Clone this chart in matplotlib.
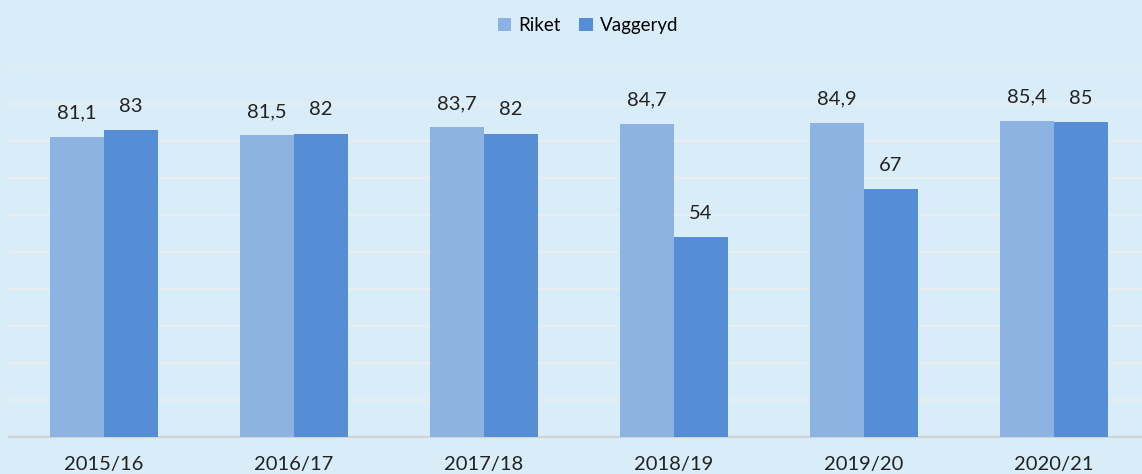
import matplotlib.pyplot as plt
import numpy as np

years = ['2015/16', '2016/17', '2017/18', '2018/19', '2019/20', '2020/21']
riket = [81.1, 81.5, 83.7, 84.7, 84.9, 85.4]
vaggeryd = [83, 82, 82, 54, 67, 85]
riket_lbl = ['81,1', '81,5', '83,7', '84,7', '84,9', '85,4']
vaggeryd_lbl = ['83', '82', '82', '54', '67', '85']

bg = '#d8edf8'
c_riket = '#8db3e2'
c_vagg = '#558ed5'
fnt = 'Lato'

fig = plt.figure(figsize=(11.42, 4.74), dpi=100)
fig.patch.set_facecolor(bg)
ax = fig.add_axes([9/1142, 37/474, 1 - 9/1142, 370/474])
ax.set_facecolor(bg)

x = np.arange(len(years))
w = 0.284
b1 = ax.bar(x - w/2, riket, w, color=c_riket, label='Riket', zorder=3)
b2 = ax.bar(x + w/2, vaggeryd, w, color=c_vagg, label='Vaggeryd', zorder=3)

for bars, lbls in ((b1, riket_lbl), (b2, vaggeryd_lbl)):
    for r, t in zip(bars, lbls):
        ax.annotate(t, (r.get_x() + r.get_width()/2, r.get_height()),
                    xytext=(0, 11), textcoords='offset points',
                    ha='center', va='bottom', fontsize=14.5, color='#222222',
                    family=fnt)

ax.set_ylim(0, 100)
ax.set_xlim(-0.5, (1142 - 104) / 190)
ax.set_yticks(np.arange(0, 101, 10))
ax.yaxis.grid(True, color='#e9edee', lw=1.5, zorder=0)
ax.tick_params(left=False, labelleft=False, bottom=False)
ax.set_xticks(x)
ax.set_xticklabels(years, fontsize=14.5, family=fnt, color='#222222')
ax.tick_params(axis='x', pad=10)
for s in ['top', 'right', 'left']:
    ax.spines[s].set_visible(False)
ax.spines['bottom'].set_color('#d0d4d6')
ax.spines['bottom'].set_linewidth(1.5)

fig.legend(loc='upper center', bbox_to_anchor=(0.515, 1.0), ncol=2, frameon=False,
           prop={'family': fnt, 'size': 13.5}, handlelength=0.7, handleheight=0.7,
           handletextpad=0.4, columnspacing=1.0)

fig.savefig('out.png', dpi=100, facecolor=bg)
